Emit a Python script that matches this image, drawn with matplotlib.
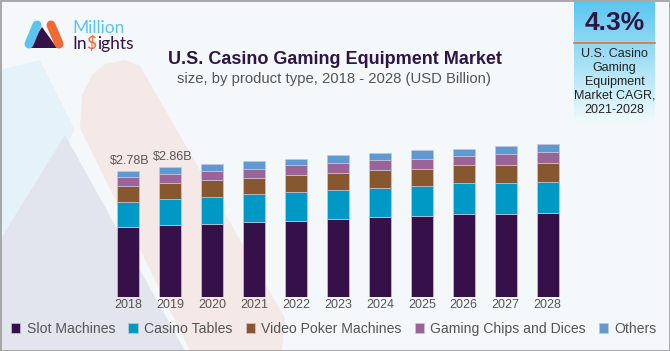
import numpy as np
import matplotlib
matplotlib.use("Agg")
import matplotlib.pyplot as plt
from matplotlib.patches import Polygon, Rectangle

plt.rcParams['font.family'] = ['Liberation Sans', 'DejaVu Sans']

years = ['2018', '2019', '2020', '2021', '2022', '2023', '2024', '2025', '2026', '2027', '2028']
slot = [1.53, 1.58, 1.61, 1.65, 1.68, 1.72, 1.75, 1.78, 1.83, 1.83, 1.85]
casino = [0.57, 0.58, 0.60, 0.61, 0.63, 0.64, 0.65, 0.66, 0.68, 0.68, 0.69]
poker = [0.34, 0.35, 0.36, 0.37, 0.38, 0.38, 0.40, 0.39, 0.39, 0.40, 0.41]
chips = [0.20, 0.20, 0.20, 0.20, 0.21, 0.21, 0.22, 0.22, 0.20, 0.24, 0.24]
others = [0.14, 0.15, 0.15, 0.16, 0.15, 0.17, 0.16, 0.18, 0.17, 0.18, 0.17]
series_names = ['Slot Machines', 'Casino Tables', 'Video Poker Machines',
                'Gaming Chips and Dices', 'Others']
colors = ['#361048', '#0098c5', '#875730', '#9b6498', '#5f99cf']

W, H = 670, 351
fig = plt.figure(figsize=(W / 100, H / 100), dpi=100)
fig.patch.set_facecolor('#f4f8fb')

# background layer in pixel coordinates
bg = fig.add_axes([0, 0, 1, 1], zorder=-1)
bg.axis('off')
bg.add_patch(Polygon([(0, 70), (40, 60), (75, 130), (0, 250)], color='#e6f2f9', lw=0))
bg.add_patch(Polygon([(0, 240), (65, 135), (185, 351), (0, 351)], color='#e2e5ed', lw=0))
bg.add_patch(Polygon([(92, 75), (105, 64), (125, 60), (140, 66), (285, 318), (282, 351),
                      (190, 351), (80, 128), (82, 95)], color='#f5e9e7', lw=0))
bg.add_patch(Rectangle((0.5, 0.5), W - 1, H - 1, fill=False, ec='#9a9a9a', lw=1.2))

# logo
logo_font = ['Lato', 'DejaVu Sans']
bg.plot([29, 37], [44, 25], color='#5cc3ee', lw=6.5, solid_capstyle='round')
bg.plot([51, 59], [25, 44], color='#f06a35', lw=6.5, solid_capstyle='round')
bg.add_patch(Polygon([(28, 48), (42, 27), (57, 48)], color='#361048', lw=0))
bg.text(72, 33, 'Million', color='#5cc3ee', fontsize=12.5, va='baseline', ha='left',
        family=logo_font)
t1 = bg.text(72, 49, 'In', color='#361048', fontsize=12.5, va='baseline', ha='left',
             family=logo_font)
t2 = bg.annotate('$', xy=(1, 0), xycoords=t1, va='bottom', ha='left', color='#f06a35',
                 fontsize=12.5, family=logo_font)
bg.annotate('ights', xy=(1, 0), xycoords=t2, va='bottom', ha='left', color='#361048',
            fontsize=12.5, family=logo_font)

# CAGR box with gradient
grad = np.linspace(0, 1, 100)[:, None]
top = np.array([0.36, 0.78, 0.94])
bot = np.array([0.94, 0.98, 0.99])
img = top[None, None, :] * (1 - grad[..., None]) + bot[None, None, :] * grad[..., None]
bg.imshow(img, extent=[574, 655, 122, 2], aspect='auto', zorder=0)
bg.set_xlim(0, W)
bg.set_ylim(H, 0)
bg.plot([574, 655], [43, 43], color='#e8703a', lw=1.2)
bg.text(614.5, 23, '4.3%', color='#2e1545', fontsize=19, fontweight='bold',
        ha='center', va='center')
bg.text(614.5, 82, 'U.S. Casino\nGaming\nEquipment\nMarket CAGR,\n2021-2028',
        color='#222222', fontsize=9, ha='center', va='center', linespacing=1.2)

# titles
fig.text(335 / W, 1 - 59 / H, 'U.S. Casino Gaming Equipment Market', color='#2e1545',
         fontsize=13, fontweight='bold', ha='center', va='center')
fig.text(334 / W, 1 - 79 / H, 'size, by product type, 2018 - 2028 (USD Billion)',
         color='#555555', fontsize=10.7, ha='center', va='center')

# main chart
ax = fig.add_axes([107.3 / W, 54.3 / H, 461.3 / W, 181.2 / H])
ax.patch.set_alpha(0)
x = np.arange(len(years))
bottom = np.zeros(len(years))
handles = []
for vals, name, c in zip([slot, casino, poker, chips, others], series_names, colors):
    b = ax.bar(x, vals, 0.525, bottom=bottom, color=c, edgecolor='#c9c6d8',
               linewidth=0.5, label=name)
    handles.append(b)
    bottom += np.array(vals)

ax.set_xlim(-0.5, len(years) - 0.5)
ax.set_ylim(0, 4)
ax.set_xticks(x)
ax.set_xticklabels(years, color='#555555', fontsize=9)
ax.tick_params(axis='x', length=0, pad=2)
ax.set_yticks([])
for s in ax.spines.values():
    s.set_visible(False)

for i, dx in [(0, 1), (1, 2)]:
    ax.annotate(f'${bottom[i]:.2f}B', xy=(x[i], bottom[i]), xytext=(dx, 3),
                textcoords='offset points', ha='center', va='bottom',
                color='#555555', fontsize=9)

fig.legend(handles=handles, labels=series_names, loc='center',
           bbox_to_anchor=(334 / W, 1 - 329 / H), ncol=5, frameon=False,
           fontsize=10.1, labelcolor='#555555', handlelength=0.65, handleheight=0.65,
           handletextpad=0.45, columnspacing=0.95, borderpad=0, borderaxespad=0)

fig.savefig('out.png', dpi=100, facecolor=fig.get_facecolor())
